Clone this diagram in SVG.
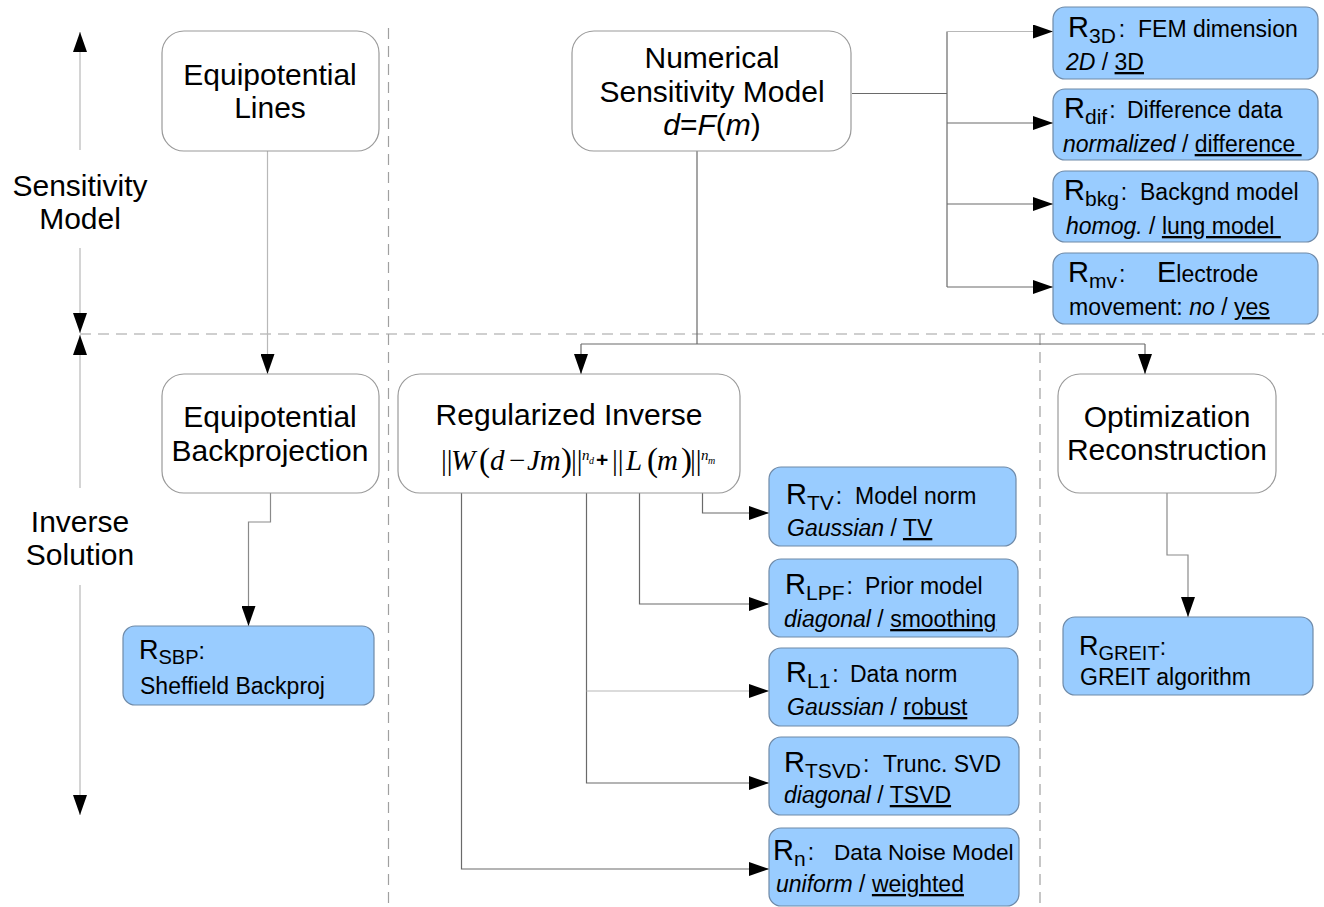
<svg xmlns="http://www.w3.org/2000/svg" width="1324" height="907" viewBox="0 0 1324 907">
<defs>
<marker id="ah" markerUnits="userSpaceOnUse" markerWidth="20" markerHeight="14" refX="20" refY="7" orient="auto">
<path d="M0,0 L20,7 L0,14 z" fill="#000"/>
</marker>
<style>
.wbox{fill:#fff;stroke:#9a9a9a;stroke-width:1.2}
.bbox{fill:#99ccff;stroke:#6f8aa8;stroke-width:1.2}
.t{font-family:"Liberation Sans",Arial,sans-serif;font-size:30px;fill:#000;text-anchor:middle}
.b{font-family:"Liberation Sans",Arial,sans-serif;font-size:23px;fill:#000}
.R{font-size:29px}
.sub{font-size:21px}
.i{font-style:italic}
.u{text-decoration:underline}
.m{font-family:"Liberation Serif","Times New Roman",serif;font-size:29px;fill:#000}
.p{font-size:33px}
.sup{font-size:15px}
.ss{font-size:10px}
.mi{font-style:italic}
.cn{fill:none;stroke:#6a6a6a;stroke-width:1.2}
.lt{fill:none;stroke:#b8b8b8;stroke-width:1.2}
.ar{marker-end:url(#ah)}
.dash{fill:none;stroke:#a0a0a0;stroke-width:1.2;stroke-dasharray:11 7}
</style>
</defs>
<rect width="1324" height="907" fill="#fff"/>

<g id="guides">
<path class="dash" d="M80,334 H1324"/>
<path class="dash" d="M388.5,28 V907"/>
<path class="dash" d="M1040,334 V907"/>
</g>

<g id="axis">
<path class="lt ar" d="M80,150 V32"/>
<path class="lt ar" d="M80,248 V333"/>
<path class="lt ar" d="M80,488 V335"/>
<path class="lt ar" d="M80,585 V815"/>
<text class="t" x="80" y="196">Sensitivity</text>
<text class="t" x="80" y="229">Model</text>
<text class="t" x="80" y="532">Inverse</text>
<text class="t" x="80" y="565">Solution</text>
</g>

<g id="connectors">
<path class="lt ar" d="M267.5,151 V374"/>
<path class="cn ar" style="stroke:#8a8a8a" d="M270.5,493 V522 H248.5 V626"/>
<path class="cn" d="M852,93.5 H947 M947,31.5 V287"/>
<path class="lt ar" d="M947,31.5 H1053"/>
<path class="cn ar" d="M947,123 H1053"/>
<path class="cn ar" d="M947,204 H1053"/>
<path class="cn ar" d="M947,287 H1053"/>
<path class="cn" d="M697,151 V344 M581,344 H1145"/>
<path class="cn ar" d="M581,344 V374"/>
<path class="cn ar" d="M1145,344 V374"/>
<path class="cn ar" style="stroke:#8a8a8a" d="M1167,493 V555 H1188 V617"/>
<path class="cn ar" d="M702.5,466 V513 H769"/>
<path class="cn ar" d="M639.5,477 V604 H769"/>
<path class="cn ar" d="M586.5,470 V783 H769"/>
<path class="lt ar" d="M586.5,691 H769"/>
<path class="cn ar" d="M461.5,485 V869 H769"/>
</g>

<g id="equip-lines">
<rect class="wbox" x="162" y="31" width="217" height="120" rx="22"/>
<text class="t" x="270" y="85">Equipotential</text>
<text class="t" x="270" y="118">Lines</text>
</g>

<g id="numerical-model">
<rect class="wbox" x="572" y="31" width="279" height="120" rx="22"/>
<text class="t" x="712" y="68">Numerical</text>
<text class="t" x="712" y="102">Sensitivity Model</text>
<text class="t" x="712" y="135"><tspan class="i">d</tspan>=<tspan class="i">F</tspan>(<tspan class="i">m</tspan>)</text>
</g>

<g id="equip-backproj">
<rect class="wbox" x="162" y="374" width="217" height="119" rx="22"/>
<text class="t" x="270" y="427">Equipotential</text>
<text class="t" x="270" y="461">Backprojection</text>
</g>

<g id="regularized-inverse">
<rect class="wbox" x="398" y="374" width="342" height="119" rx="22"/>
<text class="t" x="569" y="425">Regularized Inverse</text>
<text class="m" x="441" y="470">||</text>
<text class="m mi" x="451" y="470">W</text>
<text class="m p" x="479" y="471">(</text>
<text class="m mi" x="490" y="470">d</text>
<text class="m" x="509" y="470">−</text>
<text class="m mi" x="527" y="470">Jm</text>
<text class="m p" x="561" y="471">)</text>
<text class="m" x="571" y="470">||</text>
<text class="m mi sup" x="582" y="460">n</text>
<text class="m mi ss" x="589" y="464">d</text>
<text x="596" y="467" font-family="Liberation Sans, Arial, sans-serif" font-weight="bold" font-size="21">+</text>
<text class="m" x="612" y="470">||</text>
<text class="m mi" x="626" y="470">L</text>
<text class="m p" x="647" y="471">(</text>
<text class="m mi" x="657" y="470">m</text>
<text class="m p" x="681" y="471">)</text>
<text class="m" x="690" y="470">||</text>
<text class="m mi sup" x="701" y="460">n</text>
<text class="m mi ss" x="708" y="464">m</text>
</g>

<g id="optimization">
<rect class="wbox" x="1058" y="374" width="218" height="119" rx="22"/>
<text class="t" x="1167" y="427">Optimization</text>
<text class="t" x="1167" y="460">Reconstruction</text>
</g>

<g id="r3d">
<rect class="bbox" x="1053" y="7" width="265" height="72" rx="12"/>
<text class="b" x="1068" y="37"><tspan class="R">R</tspan><tspan class="sub" dy="6">3D</tspan><tspan dy="-6" dx="3">:</tspan><tspan x="1138">FEM dimension</tspan></text>
<text class="b" x="1066" y="70"><tspan class="i">2D</tspan> / <tspan class="u">3D</tspan></text>
</g>

<g id="rdif">
<rect class="bbox" x="1053" y="89" width="265" height="71" rx="12"/>
<text class="b" x="1064" y="118"><tspan class="R">R</tspan><tspan class="sub" dy="6">dif</tspan><tspan dy="-6" dx="2">:</tspan><tspan x="1127">Difference data</tspan></text>
<text class="b" x="1063" y="152"><tspan class="i">normalized</tspan> / <tspan class="u">difference&#160;</tspan></text>
</g>

<g id="rbkg">
<rect class="bbox" x="1053" y="171" width="265" height="71" rx="12"/>
<text class="b" x="1064" y="200"><tspan class="R">R</tspan><tspan class="sub" dy="6">bkg</tspan><tspan dy="-6" dx="2">:</tspan><tspan x="1140">Backgnd model</tspan></text>
<text class="b" x="1066" y="234"><tspan class="i">homog.</tspan> / <tspan class="u">lung model&#160;</tspan></text>
</g>

<g id="rmv">
<rect class="bbox" x="1053" y="253" width="265" height="71" rx="12"/>
<text class="b" x="1068" y="282"><tspan class="R">R</tspan><tspan class="sub" dy="6">mv</tspan><tspan dy="-6" dx="2">:</tspan><tspan x="1157" class="R">E</tspan>lectrode</text>
<text class="b" x="1069" y="315">movement: <tspan class="i">no</tspan> / <tspan class="u">yes</tspan></text>
</g>

<g id="rtv">
<rect class="bbox" x="769" y="467" width="247" height="79" rx="12"/>
<text class="b" x="786" y="504"><tspan class="R">R</tspan><tspan class="sub" dy="6">TV</tspan><tspan dy="-6" dx="2">:</tspan><tspan x="855">Model norm</tspan></text>
<text class="b" x="787" y="536"><tspan class="i">Gaussian</tspan> / <tspan class="u">TV</tspan></text>
</g>

<g id="rlpf">
<rect class="bbox" x="769" y="559" width="249" height="78" rx="12"/>
<text class="b" x="785" y="594"><tspan class="R">R</tspan><tspan class="sub" dy="6">LPF</tspan><tspan dy="-6" dx="2">:</tspan><tspan x="865">Prior model</tspan></text>
<text class="b" x="784" y="627"><tspan class="i">diagonal</tspan> / <tspan class="u">smoothing</tspan></text>
</g>

<g id="rl1">
<rect class="bbox" x="769" y="648" width="249" height="78" rx="12"/>
<text class="b" x="786" y="682"><tspan class="R">R</tspan><tspan class="sub" dy="6">L1</tspan><tspan dy="-6" dx="2">:</tspan><tspan x="850">Data norm</tspan></text>
<text class="b" x="787" y="715"><tspan class="i">Gaussian</tspan> / <tspan class="u">robust</tspan></text>
</g>

<g id="rtsvd">
<rect class="bbox" x="769" y="737" width="250" height="78" rx="12"/>
<text class="b" x="784" y="772"><tspan class="R">R</tspan><tspan class="sub" dy="6">TSVD</tspan><tspan dy="-6" dx="2">:</tspan><tspan x="883">Trunc. SVD</tspan></text>
<text class="b" x="784" y="803"><tspan class="i">diagonal</tspan> / <tspan class="u">TSVD</tspan></text>
</g>

<g id="rn">
<rect class="bbox" x="769" y="828" width="250" height="78" rx="12"/>
<text class="b" x="773" y="860"><tspan class="R">R</tspan><tspan class="sub" dy="6">n</tspan><tspan dy="-6" dx="2">:</tspan><tspan x="834" style="font-size:22.6px">Data Noise Model</tspan></text>
<text class="b" x="776" y="892"><tspan class="i">uniform</tspan> / <tspan class="u">weighted</tspan></text>
</g>

<g id="rsbp">
<rect class="bbox" x="123" y="626" width="251" height="79" rx="12"/>
<text class="b" x="139" y="659"><tspan style="font-size:27px">R</tspan><tspan style="font-size:20px" dy="5">SBP</tspan><tspan dy="-5">:</tspan></text>
<text class="b" x="140" y="694">Sheffield Backproj</text>
</g>

<g id="rgreit">
<rect class="bbox" x="1063" y="617" width="250" height="78" rx="12"/>
<text class="b" x="1079" y="655"><tspan style="font-size:27px">R</tspan><tspan style="font-size:20px" dy="5">GREIT</tspan><tspan dy="-5">:</tspan></text>
<text class="b" x="1080" y="685">GREIT algorithm</text>
</g>
</svg>
